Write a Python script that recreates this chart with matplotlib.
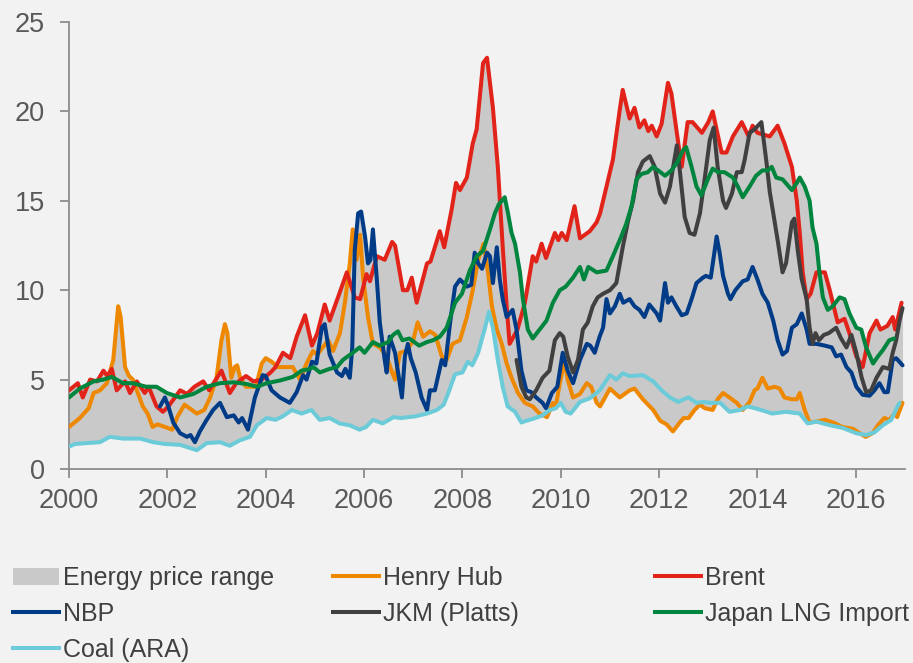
"""Energy price range chart: gas, oil and coal prices 2000-2016."""
import matplotlib

matplotlib.use("Agg")

import matplotlib.pyplot as plt  # noqa: E402
import numpy as np  # noqa: E402
from matplotlib.lines import Line2D  # noqa: E402
from matplotlib.patches import Patch  # noqa: E402

# --- data (decimal years) ---------------------------------------------------
brent_t = [2000.0, 2000.18, 2000.28, 2000.43, 2000.57, 2000.7, 2000.78, 2000.87, 2000.97,
           2001.14, 2001.24, 2001.38, 2001.54, 2001.62, 2001.78, 2001.91, 2002.02, 2002.26,
           2002.4, 2002.55, 2002.73, 2002.85, 2003.1, 2003.27, 2003.4, 2003.6, 2003.75,
           2003.92, 2004.1, 2004.2, 2004.35, 2004.5, 2004.63, 2004.8, 2004.94, 2005.05,
           2005.2, 2005.3, 2005.47, 2005.65, 2005.81, 2005.92, 2006.05, 2006.12, 2006.26,
           2006.42, 2006.57, 2006.63, 2006.79, 2006.88, 2006.97, 2007.07, 2007.28, 2007.35,
           2007.54, 2007.63, 2007.78, 2007.87, 2007.95, 2008.09, 2008.21, 2008.29, 2008.42,
           2008.5, 2008.62, 2008.72, 2008.82, 2008.9, 2008.96, 2009.12, 2009.27, 2009.43,
           2009.5, 2009.61, 2009.7, 2009.88, 2009.95, 2010.02, 2010.12, 2010.28, 2010.39,
           2010.59, 2010.73, 2010.8, 2010.93, 2011.06, 2011.2, 2011.26, 2011.4, 2011.5,
           2011.6, 2011.7, 2011.78, 2011.85, 2011.95, 2012.05, 2012.18, 2012.25, 2012.36,
           2012.46, 2012.58, 2012.68, 2012.87, 2013.0, 2013.09, 2013.16, 2013.27, 2013.37,
           2013.5, 2013.68, 2013.82, 2013.9, 2014.0, 2014.25, 2014.41, 2014.55, 2014.7,
           2014.8, 2014.86, 2014.92, 2015.0, 2015.08, 2015.2, 2015.37, 2015.47, 2015.63,
           2015.77, 2015.87, 2016.01, 2016.14, 2016.28, 2016.42, 2016.5, 2016.64, 2016.75,
           2016.8, 2016.93]
brent_v = [4.4, 4.8, 4.0, 5.0, 4.9, 5.5, 5.2, 5.6, 4.4,
           4.9, 4.25, 4.9, 4.25, 4.6, 3.5, 3.2, 3.5, 4.4,
           4.2, 4.6, 4.9, 4.4, 5.5, 4.25, 4.8, 5.2, 4.9,
           5.0, 5.4, 5.7, 6.5, 6.2, 7.4, 8.6, 6.9, 7.6,
           9.2, 8.3, 9.6, 11.0, 9.6, 9.5, 10.9, 10.5, 11.9,
           11.7, 12.7, 12.5, 10.0, 10.0, 10.7, 9.3, 11.5, 11.6,
           13.3, 12.4, 14.5, 16.0, 15.6, 16.3, 18.2, 19.0, 22.7,
           23.0, 20.2, 16.9, 12.4, 9.1, 7.0, 7.8, 9.3, 11.9,
           11.6, 12.6, 11.8, 13.2, 12.8, 13.2, 12.8, 14.7, 12.9,
           13.3, 13.8, 14.3, 15.8, 17.3, 20.1, 21.2, 19.6, 20.2,
           19.1, 19.5, 18.9, 19.2, 18.6, 19.3, 21.6, 21.0, 18.8,
           16.9, 19.4, 19.4, 18.8, 19.4, 20.0, 19.1, 17.7, 17.7,
           18.6, 19.4, 18.6, 19.2, 18.8, 18.6, 19.2, 18.2, 16.9,
           15.0, 13.2, 11.0, 9.5, 9.8, 11.0, 11.0, 10.0, 8.2,
           8.4, 7.6, 6.3, 5.7, 7.6, 8.3, 7.8, 8.0, 8.5,
           7.8, 9.3]

henry_t = [2000.0, 2000.22, 2000.4, 2000.5, 2000.63, 2000.77, 2000.9, 2001.0, 2001.05,
           2001.14, 2001.22, 2001.3, 2001.4, 2001.5, 2001.6, 2001.7, 2001.8, 2002.0,
           2002.1, 2002.2, 2002.35, 2002.45, 2002.6, 2002.75, 2002.87, 2003.0, 2003.1,
           2003.17, 2003.22, 2003.3, 2003.37, 2003.42, 2003.48, 2003.6, 2003.8, 2003.92,
           2004.0, 2004.12, 2004.25, 2004.55, 2004.7, 2004.83, 2004.96, 2005.05, 2005.27,
           2005.37, 2005.51, 2005.61, 2005.71, 2005.77, 2005.85, 2005.92, 2005.98, 2006.08,
           2006.18, 2006.32, 2006.46, 2006.57, 2006.63, 2006.73, 2006.85, 2006.99, 2007.09,
           2007.2, 2007.34, 2007.45, 2007.58, 2007.68, 2007.8, 2007.95, 2008.09, 2008.21,
           2008.32, 2008.43, 2008.52, 2008.6, 2008.7, 2008.8, 2008.9, 2009.0, 2009.13,
           2009.27, 2009.43, 2009.57, 2009.72, 2009.84, 2009.9, 2009.98, 2010.08, 2010.14,
           2010.25, 2010.39, 2010.53, 2010.62, 2010.73, 2010.8, 2011.0, 2011.2, 2011.4,
           2011.5, 2011.67, 2011.88, 2012.02, 2012.15, 2012.28, 2012.42, 2012.5, 2012.6,
           2012.72, 2012.83, 2012.93, 2013.09, 2013.19, 2013.3, 2013.43, 2013.58, 2013.7,
           2013.84, 2013.94, 2014.0, 2014.1, 2014.21, 2014.35, 2014.45, 2014.55, 2014.7,
           2014.8, 2014.86, 2014.96, 2015.06, 2015.2, 2015.37, 2015.54, 2015.73, 2015.94,
           2016.08, 2016.2, 2016.34, 2016.45, 2016.58, 2016.68, 2016.79, 2016.84, 2016.95]
henry_v = [2.35, 2.85, 3.4, 4.25, 4.4, 4.8, 6.1, 9.1, 8.5,
           5.7, 5.2, 5.0, 4.25, 3.5, 3.1, 2.35, 2.5, 2.3,
           2.2, 2.9, 3.6, 3.4, 3.1, 3.3, 4.0, 5.1, 7.2,
           8.1, 7.6, 5.1, 5.7, 5.8, 5.1, 4.6, 4.6, 5.9,
           6.2, 6.0, 5.7, 5.7, 5.0, 5.9, 6.6, 6.4, 7.2,
           6.6, 7.6, 9.3, 11.5, 13.4, 11.7, 13.1, 10.7, 8.5,
           7.0, 6.8, 6.3, 5.4, 5.0, 6.5, 6.6, 7.1, 8.2,
           7.4, 7.7, 7.5, 6.3, 6.1, 7.0, 7.2, 8.5, 10.0,
           11.7, 12.6, 11.0, 9.1, 7.8, 7.0, 5.9, 5.1, 4.25,
           3.7, 3.5, 3.1, 2.9, 3.7, 3.5, 4.8, 6.1, 5.0,
           4.0, 4.2, 4.8, 4.6, 3.7, 3.5, 4.5, 4.0, 4.4,
           4.5, 3.9, 3.3, 2.7, 2.5, 2.1, 2.6, 2.85, 2.85,
           3.3, 3.6, 3.4, 3.3, 3.9, 4.25, 4.0, 3.7, 3.3,
           3.75, 4.4, 4.5, 5.1, 4.5, 4.6, 4.5, 4.0, 3.9,
           3.9, 4.25, 3.3, 2.6, 2.65, 2.75, 2.6, 2.35, 2.25,
           2.0, 1.8, 2.0, 2.45, 2.85, 2.75, 3.1, 2.9, 3.7]

nbp_t = [2001.85, 2001.95, 2002.02, 2002.12, 2002.26, 2002.4, 2002.47, 2002.56, 2002.66,
         2002.8, 2002.93, 2003.07, 2003.21, 2003.35, 2003.45, 2003.52, 2003.64, 2003.78,
         2003.94, 2004.0, 2004.12, 2004.29, 2004.49, 2004.63, 2004.76, 2004.83, 2004.94,
         2005.03, 2005.14, 2005.2, 2005.3, 2005.45, 2005.55, 2005.62, 2005.71, 2005.76,
         2005.81, 2005.88, 2005.94, 2006.02, 2006.08, 2006.13, 2006.18, 2006.26, 2006.32,
         2006.42, 2006.46, 2006.52, 2006.63, 2006.77, 2006.83, 2006.89, 2006.95, 2007.05,
         2007.17, 2007.28, 2007.34, 2007.44, 2007.58, 2007.65, 2007.75, 2007.85, 2007.95,
         2008.09, 2008.18, 2008.25, 2008.32, 2008.4, 2008.5, 2008.56, 2008.62, 2008.7,
         2008.76, 2008.82, 2008.9, 2009.02, 2009.1, 2009.2, 2009.3, 2009.4, 2009.5,
         2009.63, 2009.7, 2009.82, 2009.93, 2010.04, 2010.14, 2010.25, 2010.39, 2010.53,
         2010.6, 2010.69, 2010.79, 2010.86, 2010.93, 2011.0, 2011.1, 2011.2, 2011.27,
         2011.4, 2011.5, 2011.6, 2011.7, 2011.8, 2011.95, 2012.02, 2012.12, 2012.18,
         2012.25, 2012.35, 2012.46, 2012.56, 2012.66, 2012.76, 2012.89, 2012.95, 2013.05,
         2013.17, 2013.23, 2013.3, 2013.4, 2013.45, 2013.55, 2013.7, 2013.8, 2013.9,
         2014.0, 2014.1, 2014.21, 2014.32, 2014.41, 2014.51, 2014.6, 2014.7, 2014.8,
         2014.9, 2015.0, 2015.06, 2015.2, 2015.37, 2015.51, 2015.6, 2015.7, 2015.81,
         2015.91, 2016.01, 2016.14, 2016.28, 2016.38, 2016.48, 2016.58, 2016.65, 2016.75,
         2016.82, 2016.95]
nbp_v = [3.5, 4.0, 3.5, 2.6, 2.0, 1.8, 1.9, 1.5, 2.1,
         2.75, 3.3, 3.7, 2.9, 3.0, 2.6, 2.85, 2.2, 4.0,
         5.25, 5.2, 4.4, 4.0, 3.7, 4.3, 5.25, 5.0, 6.0,
         5.9, 7.9, 8.1, 6.4, 5.4, 5.2, 5.6, 5.1, 6.8,
         12.2, 14.3, 14.4, 13.0, 11.5, 11.7, 13.4, 10.6, 8.2,
         6.1, 5.4, 7.4, 6.5, 4.0, 6.3, 7.0, 6.2, 5.4,
         4.0, 3.3, 4.4, 4.4, 6.1, 5.8, 8.2, 10.2, 10.6,
         10.2, 10.3, 12.1, 11.5, 11.2, 12.1, 11.9, 10.4, 12.4,
         10.6, 9.5, 8.5, 8.9, 7.8, 5.5, 4.4, 4.3, 4.0,
         3.7, 3.4, 4.25, 4.6, 6.5, 5.5, 4.8, 6.1, 7.0,
         6.9, 6.5, 7.4, 7.9, 9.5, 8.7, 9.1, 9.8, 9.3,
         9.5, 9.1, 8.9, 8.5, 9.2, 8.7, 8.3, 10.4, 9.3,
         9.6, 9.1, 8.6, 8.7, 9.5, 10.4, 10.7, 10.8, 10.7,
         13.0, 12.1, 10.8, 9.8, 9.5, 10.0, 10.5, 10.6, 11.3,
         10.6, 9.8, 9.3, 8.3, 7.2, 6.4, 6.6, 7.9, 8.1,
         8.7, 7.8, 7.0, 7.0, 6.9, 6.8, 6.3, 6.4, 5.7,
         5.4, 4.6, 4.15, 4.1, 4.4, 4.8, 4.3, 4.3, 6.1,
         6.2, 5.8]

jkm_t = [2009.1, 2009.2, 2009.3, 2009.37, 2009.5, 2009.63, 2009.77, 2009.88, 2009.98,
         2010.05, 2010.14, 2010.25, 2010.35, 2010.45, 2010.55, 2010.65, 2010.75, 2010.86,
         2011.0, 2011.13, 2011.26, 2011.37, 2011.47, 2011.57, 2011.67, 2011.81, 2011.91,
         2012.02, 2012.12, 2012.22, 2012.28, 2012.36, 2012.42, 2012.52, 2012.62, 2012.72,
         2012.83, 2012.93, 2013.03, 2013.11, 2013.19, 2013.3, 2013.36, 2013.48, 2013.58,
         2013.68, 2013.74, 2013.84, 2013.94, 2014.08, 2014.19, 2014.25, 2014.31, 2014.41,
         2014.51, 2014.58, 2014.7, 2014.75, 2014.82, 2014.9, 2015.0, 2015.06, 2015.12,
         2015.18, 2015.25, 2015.35, 2015.45, 2015.6, 2015.7, 2015.81, 2015.91, 2016.01,
         2016.12, 2016.21, 2016.31, 2016.42, 2016.55, 2016.68, 2016.75, 2016.82, 2016.89,
         2016.95]
jkm_v = [6.1, 4.6, 4.0, 3.9, 4.4, 5.1, 5.5, 7.2, 7.6,
         7.4, 6.3, 5.4, 6.1, 7.8, 8.2, 9.1, 9.6, 9.8,
         10.0, 10.4, 12.4, 13.9, 15.0, 16.6, 17.2, 17.5, 16.9,
         15.4, 14.9, 15.8, 16.8, 18.1, 16.7, 14.1, 13.2, 13.1,
         14.3, 16.3, 18.4, 19.1, 16.9, 15.0, 14.6, 15.4, 16.6,
         16.6, 17.3, 18.8, 19.0, 19.4, 17.0, 15.5, 14.5, 12.8,
         11.0, 11.5, 13.8, 14.0, 12.2, 10.6, 9.5, 7.9, 7.0,
         7.6, 7.2, 7.5, 7.6, 7.9, 7.3, 6.8, 7.5, 6.5,
         5.1, 4.3, 4.4, 5.1, 5.7, 5.6, 6.5, 7.2, 8.3,
         9.0]

lng_t = [2000.0, 2000.22, 2000.5, 2000.7, 2000.87, 2001.1, 2001.3, 2001.57, 2001.78,
         2001.99, 2002.26, 2002.53, 2002.8, 2003.07, 2003.35, 2003.62, 2003.82, 2004.02,
         2004.29, 2004.55, 2004.73, 2004.9, 2004.97, 2005.1, 2005.3, 2005.45, 2005.57,
         2005.77, 2005.91, 2006.01, 2006.18, 2006.32, 2006.49, 2006.59, 2006.69, 2006.78,
         2006.92, 2007.12, 2007.28, 2007.4, 2007.54, 2007.68, 2007.85, 2007.99, 2008.15,
         2008.29, 2008.42, 2008.56, 2008.66, 2008.74, 2008.86, 2008.92, 2009.0, 2009.07,
         2009.17, 2009.23, 2009.33, 2009.43, 2009.57, 2009.71, 2009.84, 2009.98, 2010.1,
         2010.25, 2010.39, 2010.47, 2010.56, 2010.73, 2010.93, 2011.06, 2011.2, 2011.33,
         2011.44, 2011.54, 2011.64, 2011.77, 2011.88, 2011.98, 2012.12, 2012.25, 2012.38,
         2012.48, 2012.55, 2012.66, 2012.76, 2012.86, 2012.99, 2013.09, 2013.2, 2013.33,
         2013.5, 2013.6, 2013.7, 2013.84, 2013.97, 2014.1, 2014.21, 2014.29, 2014.38,
         2014.51, 2014.7, 2014.8, 2014.86, 2014.96, 2015.06, 2015.12, 2015.2, 2015.26,
         2015.33, 2015.43, 2015.53, 2015.67, 2015.77, 2015.87, 2016.01, 2016.11, 2016.21,
         2016.35, 2016.45, 2016.55, 2016.68, 2016.78]
lng_v = [4.0, 4.5, 4.9, 5.0, 5.15, 4.8, 4.8, 4.6, 4.6,
         4.25, 4.0, 4.2, 4.6, 4.8, 4.85, 4.75, 4.6, 4.8,
         4.95, 5.15, 5.5, 5.6, 5.7, 5.4, 5.6, 5.7, 6.1,
         6.5, 6.8, 6.5, 7.1, 6.9, 7.1, 7.5, 7.7, 7.2,
         7.3, 6.9, 7.1, 7.2, 7.4, 7.9, 9.3, 9.8, 11.1,
         11.9, 12.2, 13.4, 14.3, 14.8, 15.2, 14.4, 13.2, 12.6,
         11.0, 9.5, 7.8, 7.3, 7.8, 8.3, 9.3, 10.0, 10.2,
         10.7, 11.3, 10.6, 11.3, 11.0, 11.1, 11.9, 12.8, 13.7,
         14.7, 16.2, 16.5, 16.6, 16.9, 16.7, 16.4, 16.7, 17.2,
         17.8, 18.0, 16.9, 15.8, 15.3, 16.2, 16.8, 16.6, 16.6,
         16.3, 15.8, 15.2, 15.8, 16.4, 16.7, 16.7, 16.9, 16.3,
         16.2, 15.6, 16.0, 16.3, 15.8, 15.0, 13.5, 12.6, 11.0,
         9.6, 8.9, 9.1, 9.6, 9.5, 8.7, 7.9, 7.8, 6.8,
         5.9, 6.3, 6.65, 7.2, 7.3]

coal_t = [2000.0, 2000.12, 2000.63, 2000.83, 2001.1, 2001.45, 2001.71, 2001.95, 2002.26,
          2002.6, 2002.8, 2003.07, 2003.27, 2003.47, 2003.68, 2003.82, 2004.02, 2004.2,
          2004.35, 2004.53, 2004.73, 2004.93, 2005.1, 2005.3, 2005.5, 2005.7, 2005.91,
          2006.04, 2006.18, 2006.38, 2006.6, 2006.75, 2007.05, 2007.28, 2007.48, 2007.62,
          2007.72, 2007.85, 2008.0, 2008.11, 2008.2, 2008.32, 2008.46, 2008.54, 2008.62,
          2008.72, 2008.82, 2008.92, 2009.07, 2009.2, 2009.3, 2009.43, 2009.63, 2009.78,
          2009.9, 2010.0, 2010.1, 2010.2, 2010.39, 2010.59, 2010.79, 2011.0, 2011.13,
          2011.26, 2011.4, 2011.67, 2011.88, 2012.05, 2012.22, 2012.39, 2012.5, 2012.6,
          2012.76, 2012.9, 2013.03, 2013.24, 2013.43, 2013.64, 2013.8, 2013.95, 2014.19,
          2014.3, 2014.57, 2014.86, 2015.02, 2015.2, 2015.47, 2015.73, 2016.01, 2016.21,
          2016.38, 2016.55, 2016.72, 2016.83, 2016.89]
coal_v = [1.25, 1.4, 1.5, 1.8, 1.7, 1.7, 1.5, 1.4, 1.35,
          1.05, 1.45, 1.5, 1.3, 1.6, 1.8, 2.45, 2.85, 2.75,
          2.95, 3.3, 3.1, 3.3, 2.75, 2.85, 2.55, 2.45, 2.2,
          2.35, 2.75, 2.55, 2.9, 2.85, 2.95, 3.1, 3.3, 3.6,
          4.3, 5.3, 5.4, 6.0, 5.8, 6.5, 7.9, 8.8, 7.9,
          6.1, 4.6, 3.5, 3.2, 2.6, 2.7, 2.8, 3.0, 3.3,
          3.4, 3.7, 3.2, 3.1, 3.75, 3.95, 4.4, 5.25, 5.0,
          5.35, 5.2, 5.25, 4.9, 4.4, 4.0, 3.75, 3.9, 4.0,
          3.7, 3.75, 3.7, 3.7, 3.2, 3.3, 3.5, 3.4, 3.2,
          3.1, 3.2, 3.1, 2.55, 2.65, 2.45, 2.3, 2.0, 1.9,
          2.05, 2.45, 2.75, 3.4, 3.7]

x_ticks = list(range(2000, 2017, 2))
y_ticks = [0, 5, 10, 15, 20, 25]

BG = "#f2f2f2"
TEXT = "#404040"
SPINE = "#8c8c8c"
LW = 2.9

series = [
    ("Henry Hub", henry_t, henry_v, "#ee8800"),
    ("Brent", brent_t, brent_v, "#e2231a"),
    ("NBP", nbp_t, nbp_v, "#003b87"),
    ("JKM (Platts)", jkm_t, jkm_v, "#404040"),
    ("Japan LNG Import", lng_t, lng_v, "#00853e"),
    ("Coal (ARA)", coal_t, coal_v, "#6ccbd8"),
]

plt.rcParams["font.family"] = ["Liberation Sans", "DejaVu Sans"]

fig = plt.figure(figsize=(9.13, 6.63), dpi=100, facecolor=BG)
ax = fig.add_axes([69 / 913, 1 - 469 / 663, (905 - 69) / 913, (469 - 22) / 663])
ax.set_facecolor(BG)

# envelope of all series -> grey "energy price range"
grid = np.linspace(2000.0, 2016.95, 1200)
stack = []
for _, t, v, _ in series:
    row = np.interp(grid, t, v)
    row[(grid < t[0]) | (grid > t[-1])] = np.nan
    stack.append(row)
stack = np.array(stack)
ax.fill_between(grid, np.nanmin(stack, axis=0), np.nanmax(stack, axis=0),
                color="#c9c9c9", lw=0, zorder=1)

handles = {}
for name, t, v, col in series:
    (ln,) = ax.plot(t, v, color=col, lw=LW, solid_joinstyle="round",
                    solid_capstyle="round", zorder=3, label=name)
    handles[name] = ln

ax.set_xlim(2000, 2017)
ax.set_ylim(0, 25)
ax.set_xticks(x_ticks)
ax.set_yticks(y_ticks)
for side in ("top", "right"):
    ax.spines[side].set_visible(False)
for side in ("left", "bottom"):
    ax.spines[side].set_color(SPINE)
    ax.spines[side].set_linewidth(1.3)
ax.tick_params(axis="both", colors=SPINE, labelcolor="#595959", labelsize=19.5,
               length=6.5, width=1.3, direction="out")
ax.tick_params(axis="y", pad=11)
ax.tick_params(axis="x", pad=7)

# legend: three single-column blocks laid out like the reference
range_patch = Patch(facecolor="#c9c9c9", edgecolor="none", label="Energy price range")
cols = [
    (13, [range_patch, handles["NBP"], handles["Coal (ARA)"]]),
    (333, [handles["Henry Hub"], handles["JKM (Platts)"]]),
    (655, [handles["Brent"], handles["Japan LNG Import"]]),
]
for x_px, hs in cols:
    leg_h = [Line2D([], [], color=h.get_color(), lw=LW) if isinstance(h, Line2D) else h
             for h in hs]
    leg = fig.legend(leg_h, [h.get_label() for h in hs], loc="upper left",
                     bbox_to_anchor=(x_px / 913, 1 - 566 / 663), frameon=False,
                     fontsize=18, handlelength=1.85, handletextpad=0.15,
                     labelspacing=0.48, borderpad=0, borderaxespad=0)
    for txt in leg.get_texts():
        txt.set_color(TEXT)

fig.savefig("out.png", dpi=100, facecolor=BG)
